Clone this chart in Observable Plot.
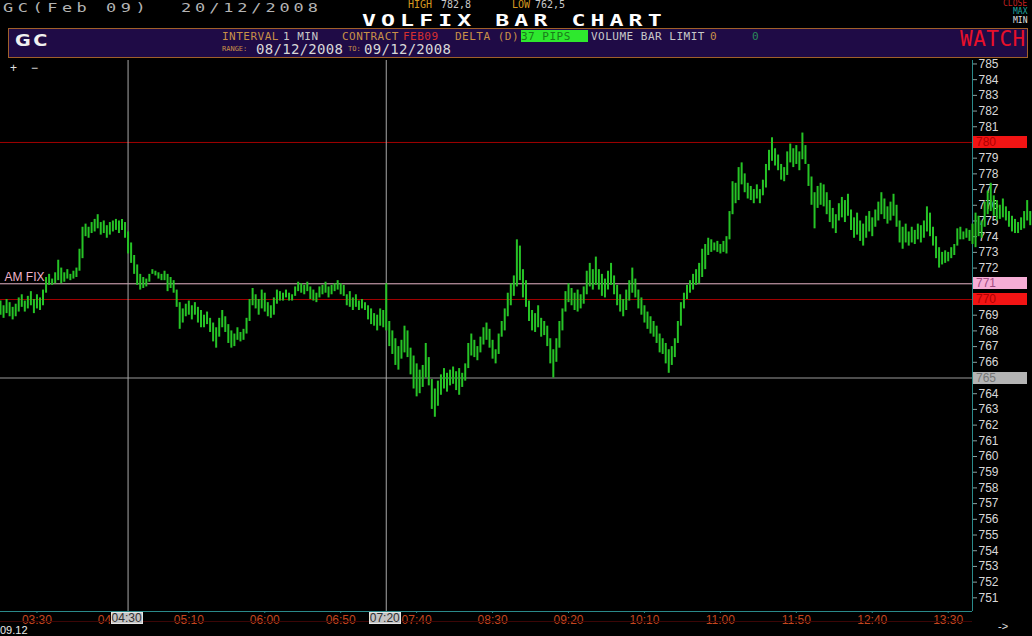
<!DOCTYPE html>
<html><head><meta charset="utf-8">
<script src="https://cdn.jsdelivr.net/npm/d3@7"></script>
<script src="https://cdn.jsdelivr.net/npm/@observablehq/plot@0.6"></script>
<style>
html,body{margin:0;padding:0;background:#000;overflow:hidden;width:1032px;height:636px}
#wrap{position:relative;width:1032px;height:636px;background:#000;overflow:hidden}
.a{position:absolute;white-space:nowrap;line-height:1}
.mono{font-family:"DejaVu Sans Mono",monospace}
.sans{font-family:"Liberation Sans",Arial,sans-serif}
</style></head><body><div id="wrap"></div>
<script>
// ---------- data ----------
const startTime = "03:06";          // first bar
const stepMinutes = 2;              // bar interval shown
const highs = [
769.9,769.6,770.0,769.8,769.5,769.7,770.1,770.3,769.9,770.2,
770.5,770.0,770.3,770.1,770.6,771.4,771.6,771.3,771.7,772.5,
772.0,771.7,771.9,771.6,771.8,772.0,773.2,774.6,774.8,774.6,
774.9,775.1,775.4,774.9,775.0,774.7,774.9,775.0,775.1,
775.0,775.1,774.9,774.3,773.6,772.8,772.2,771.6,771.4,771.3,
771.6,771.9,771.8,771.7,771.6,771.8,771.6,771.4,771.2,770.6,
769.8,769.4,769.7,769.9,769.6,769.8,769.5,769.3,769.0,769.2,
768.8,768.5,768.2,768.8,769.3,768.9,768.4,768.0,767.8,768.2,
767.9,768.1,768.8,770.0,770.7,770.3,770.0,770.6,770.4,769.8,
769.6,770.1,770.6,770.5,770.4,770.6,770.4,770.3,770.8,771.1,
771.0,770.9,771.1,770.8,770.6,770.4,770.8,770.9,771.1,770.8,
770.9,771.0,771.2,771.0,770.9,770.3,770.5,770.1,770.3,
769.9,770.0,769.8,769.6,769.4,769.1,769.0,769.4,769.3,771.0,
768.6,768.0,767.5,767.0,767.4,768.3,768.0,766.9,766.4,765.9,
765.5,765.8,767.2,766.3,764.9,764.3,764.8,765.2,765.6,765.3,
765.5,765.7,765.4,765.6,765.3,765.9,767.2,767.8,767.4,767.0,
767.6,768.2,768.5,768.1,767.4,766.8,767.8,768.6,769.4,770.4,
771.0,771.5,773.8,773.4,771.9,771.2,769.9,769.3,769.1,769.6,
768.8,768.6,768.3,767.5,766.8,767.5,768.6,769.4,770.5,771.0,
770.7,770.4,770.6,770.3,770.8,771.8,772.3,771.9,772.7,
771.9,771.6,771.3,771.8,772.3,771.5,770.9,770.3,770.0,770.6,
771.2,772.0,771.3,770.6,770.1,769.6,769.2,768.9,768.6,768.3,
767.8,767.5,767.2,766.8,767.0,767.5,768.6,769.8,770.4,770.9,
771.2,771.6,771.9,772.3,773.2,773.5,773.9,773.8,773.6,773.7,
773.5,773.7,774.0,775.6,777.5,777.4,778.4,778.7,778.0,777.4,
777.2,777.0,777.3,777.0,777.6,778.6,779.5,780.3,779.6,779.2,
778.6,778.4,779.4,779.9,779.6,779.8,779.4,780.6,779.8,
778.6,777.8,776.8,777.2,777.4,777.3,776.8,776.3,775.8,775.4,
776.1,776.5,776.3,776.7,775.7,775.2,775.5,775.0,774.8,775.3,
775.6,775.2,775.7,776.2,776.8,776.4,775.9,776.2,776.7,776.0,
775.0,774.6,774.8,774.3,774.6,774.4,774.8,774.7,775.0,775.9,
775.5,774.6,774.0,773.3,773.0,773.1,773.0,773.3,773.5,774.5,
774.6,774.3,774.5,774.4,774.8,775.5,775.3,775.0,776.2,776.9,
777.4,776.6,776.3,776.0,776.4,775.9,775.6,775.3,775.1,774.9,
775.2,775.6,776.3,775.6,775.3
];
const lows = [
769.0,768.8,769.1,768.9,768.7,768.9,769.2,769.5,769.2,769.4,
769.6,769.1,769.4,769.3,769.6,770.4,770.9,770.9,771.0,771.2,
771.0,771.1,771.3,771.2,771.3,771.4,771.8,772.6,774.0,773.9,
774.2,774.3,774.5,774.1,774.2,773.9,774.1,774.3,774.4,
774.2,774.4,773.9,772.9,772.3,771.6,770.9,770.6,770.7,770.8,
771.1,771.6,771.5,771.3,771.2,771.2,770.5,770.7,770.4,769.5,
768.1,768.5,768.9,769.0,768.7,769.0,768.5,768.2,768.2,768.4,
767.9,767.3,766.9,767.6,768.2,767.9,767.2,766.9,767.0,767.4,
767.3,767.4,767.8,768.6,769.6,769.4,769.0,769.4,769.2,768.9,
768.8,769.0,769.7,769.9,769.9,770.1,769.9,769.9,770.2,770.5,
770.4,770.3,770.5,770.0,769.9,769.8,770.1,770.3,770.4,770.1,
770.3,770.5,770.6,770.3,770.2,769.6,769.5,769.3,769.5,
769.3,769.4,769.3,768.7,768.4,768.3,768.0,768.3,768.2,768.0,
767.0,766.5,765.8,765.5,766.2,766.6,766.3,765.2,764.3,763.8,
764.0,764.4,765.0,764.5,763.0,762.5,763.2,763.9,764.3,764.1,
764.5,764.6,764.2,763.9,764.4,764.8,765.6,766.4,766.3,766.1,
766.6,767.1,767.4,766.9,766.2,765.9,766.5,767.6,768.0,768.9,
769.6,770.2,770.8,771.2,770.1,769.5,768.6,768.0,767.9,768.2,
767.6,767.7,767.0,765.9,765.0,766.0,766.9,768.0,769.2,769.8,
769.6,769.3,769.2,769.4,769.7,770.3,770.8,770.6,770.9,
770.6,770.2,770.1,770.6,770.9,770.3,769.6,769.2,768.9,769.3,
769.9,770.4,770.1,769.4,769.0,768.5,768.1,767.8,767.6,767.2,
766.6,766.5,765.9,765.3,765.8,766.3,767.2,768.3,769.4,770.0,
770.4,770.6,770.9,771.0,771.4,771.9,772.8,773.0,773.1,773.0,
772.9,773.0,772.9,773.8,775.4,776.1,776.3,777.3,776.8,776.4,
776.3,776.1,776.4,776.1,776.6,777.1,778.2,778.8,778.5,778.2,
777.6,777.5,777.9,778.7,778.4,778.6,778.2,778.9,778.6,
777.2,776.0,774.5,775.8,776.0,775.9,775.4,774.9,774.5,774.2,
775.0,775.2,774.9,775.3,774.4,773.9,774.1,773.7,773.4,773.9,
774.3,774.0,774.6,775.0,775.4,775.1,774.8,775.0,775.3,774.6,
773.6,773.2,773.6,773.4,773.6,773.5,773.8,773.6,773.9,774.3,
774.0,773.4,772.6,772.0,772.2,772.3,772.4,772.6,772.8,773.4,
773.8,773.8,773.9,773.7,773.5,773.3,774.0,773.9,774.6,775.4,
775.6,775.3,775.0,775.1,775.2,775.0,774.6,774.3,774.2,774.2,
774.4,774.5,775.0,774.7,774.6
];
const xTickLabels = ["03:30","04:20","05:10","06:00","06:50","07:40","08:30","09:20","10:10","11:00","11:50","12:40","13:30"];
const yTickLabels = [751,752,753,754,755,756,757,758,759,760,761,762,763,764,765,766,767,768,769,770,771,772,773,774,775,776,777,778,779,780,781,782,783,784,785];
const xDomainLabels = ["03:06","13:46"];
const yDomain = [750.13, 785.22];
const redLevels = [780, 770];
const pinkLevels = [771];
const grayLevels = [765];
const crosshairLabels = ["04:30","07:20"];
const amFix = [{label: "AM FIX", value: 771}];
const levelBoxes = [
  {value: 780, bg: "#f21414", fg: "#b00000"},
  {value: 771, bg: "#f6aed6", fg: "#a04c82"},
  {value: 770, bg: "#f21414", fg: "#b00000"},
  {value: 765, bg: "#b4b4b4", fg: "#767676"}
];

// ---------- helpers ----------
const toMin = s => { const [h, m] = s.split(":").map(Number); return h * 60 + m; };
const fmtHM = d => String(Math.floor(d / 60)).padStart(2, "0") + ":" + String(d % 60).padStart(2, "0");
const startMin = toMin(startTime);
const bars = highs.map((h, i) => ({t: startMin + i * stepMinutes, hi: h, lo: lows[i]}));
const xDomain = xDomainLabels.map(toMin);
const xTicks = xTickLabels.map(toMin);
const crossT = crosshairLabels.map(toMin);
const boxValues = levelBoxes.map(b => b.value);
const yAxisTicks = yTickLabels.filter(v => !boxValues.includes(v));

const wrap = document.getElementById("wrap");
function put(text, left, top, cls, css) {
  const d = document.createElement("div");
  d.className = "a " + cls;
  d.textContent = text;
  d.style.left = left + "px";
  d.style.top = top + "px";
  d.style.cssText += ";" + (css || "");
  wrap.appendChild(d);
  return d;
}

// ---------- header ----------
put("GC(Feb 09)", 3, 1, "mono", "font-size:13px;color:#b4b4b4;letter-spacing:3.5px;transform:scaleX(1.3);transform-origin:0 0");
put("20/12/2008", 181, 1, "mono", "font-size:13px;color:#b4b4b4;letter-spacing:3.0px;transform:scaleX(1.3);transform-origin:0 0");
put("HIGH", 408, 0, "mono", "font-size:10px;color:#d89a20");
put("782,8", 441, 0, "mono", "font-size:10px;color:#c8c8c8");
put("LOW", 512, 0, "mono", "font-size:10px;color:#d89a20");
put("762,5", 535, 0, "mono", "font-size:10px;color:#c8c8c8");
put("VOLFIX BAR CHART", 362, 13, "mono", "font-size:16px;font-weight:bold;color:#ffffff;letter-spacing:3.5px;transform:scaleX(1.45);transform-origin:0 0");
put("CLOSE", 1003, 0, "mono", "font-size:8px;color:#c02020");
put("MAX", 1013, 8, "mono", "font-size:8px;color:#20a8a0");
put("MIN", 1013, 17, "mono", "font-size:8px;color:#e0e0e0");

put("", 8, 28, "", "width:1018px;height:28px;background:#1f0b46;border:1px solid #a0602a");
put("GC", 15, 33, "sans", "font-family:'DejaVu Sans';font-size:16px;font-weight:bold;color:#f0f0f0;letter-spacing:2px;transform:scaleX(1.2);transform-origin:0 0");
const r1 = "font-size:11px;letter-spacing:0.5px;";
put("INTERVAL", 222, 31, "mono", r1 + "color:#c89048");
put("1 MIN", 283, 31, "mono", r1 + "color:#c8c8c8");
put("CONTRACT", 342, 31, "mono", r1 + "color:#c89048");
put("FEB09", 403, 31, "mono", r1 + "color:#d83030");
put("DELTA (D)", 455, 31, "mono", r1 + "color:#c89048");
put("37 PIPS", 521, 30, "mono", r1 + "color:#1a7a1a;background:#2ee82e;width:67px;height:11px;padding-top:1px");
put("VOLUME BAR LIMIT", 591, 31, "mono", r1 + "color:#c8c8c8");
put("0", 710, 31, "mono", r1 + "color:#c89048");
put("0", 752, 31, "mono", r1 + "color:#2a8a5a");
put("WATCH", 960, 29, "mono", "font-size:21px;color:#e8102a;letter-spacing:0.5px");
put("RANGE:", 222, 46, "mono", "font-size:7px;color:#c89048");
put("08/12/2008", 256, 42, "mono", "font-size:14px;color:#d8d8d8;letter-spacing:0.3px");
put("TO:", 348, 46, "mono", "font-size:7px;color:#c89048");
put("09/12/2008", 364, 42, "mono", "font-size:14px;color:#d8d8d8;letter-spacing:0.3px");

// ---------- chart ----------
const teal = "#2a8a8a";
const chart = Plot.plot({
  width: 1032, height: 576,
  marginLeft: 0, marginRight: 60, marginTop: 0, marginBottom: 25,
  style: {background: "#000", color: "#d8d8d8", fontFamily: "Liberation Sans, Arial, sans-serif", fontSize: "12px", overflow: "visible"},
  x: {domain: xDomain, axis: null},
  y: {domain: yDomain, axis: null},
  marks: [
    Plot.ruleY(redLevels, {stroke: "#a00000", strokeWidth: 1}),
    Plot.ruleY(pinkLevels, {stroke: "#e6b4c6", strokeWidth: 1}),
    Plot.ruleY(grayLevels, {stroke: "#9a9a9a", strokeWidth: 1}),
    Plot.ruleX(crossT, {stroke: "#a8a8a8", strokeWidth: 1}),
    Plot.ruleY([yDomain[0]], {stroke: teal}),
    Plot.ruleX([xDomain[1]], {stroke: teal}),
    Plot.axisY(yAxisTicks, {anchor: "right", tickSize: 4, tickPadding: 2, label: null, stroke: "#8aa0a0", fill: "#d8d8d8", fontSize: 12, tickFormat: d => String(d)}),
    Plot.axisX(xTicks, {anchor: "bottom", tickSize: 2, tickPadding: 2, label: null, stroke: teal, fill: "#c4461e", fontSize: 12, tickFormat: fmtHM}),
    Plot.text(amFix, {text: "label", y: "value", frameAnchor: "left", dx: 4, dy: -7, textAnchor: "start", fill: "#f0b4cc", fontSize: 12}),
    Plot.ruleX(bars, {x: "t", y1: "lo", y2: "hi", stroke: "#26c426", strokeWidth: 2})
  ]
});
chart.style.position = "absolute";
chart.style.left = "0px";
chart.style.top = "60px";
wrap.appendChild(chart);

const xs = chart.scale("x"), ys = chart.scale("y");
const top0 = 60;

// faint dark-red line through the time labels
put("", 0, top0 + ys.apply(yDomain[0]) + 10, "", "width:972px;height:1px;background:#3c0606");

// level boxes on the price axis
for (const b of levelBoxes) {
  put(String(b.value), xs.apply(xDomain[1]) + 1, top0 + ys.apply(b.value) - 6, "sans",
    `font-size:12px;width:51px;height:12px;padding-left:3px;background:${b.bg};color:${b.fg}`);
}
// crosshair time boxes
crossT.forEach((t, i) => {
  put(crosshairLabels[i], xs.apply(t) - 17, top0 + ys.apply(yDomain[0]) + 1, "sans",
    "font-size:12px;width:32px;height:12px;text-align:center;background:#c4c4c4;color:#303030;border:1px solid #e6e6e6;box-sizing:border-box;line-height:11px");
});

put("+", 10, 62, "sans", "font-size:12px;color:#e0e0e0");
put("\u2212", 31, 62, "sans", "font-size:12px;color:#e0e0e0");
put("09.12", 0, 625, "sans", "font-size:11px;color:#e8e8e8");
put("->", 998, 621, "sans", "font-size:11px;color:#e0e0e0");
</script>
</body></html>
